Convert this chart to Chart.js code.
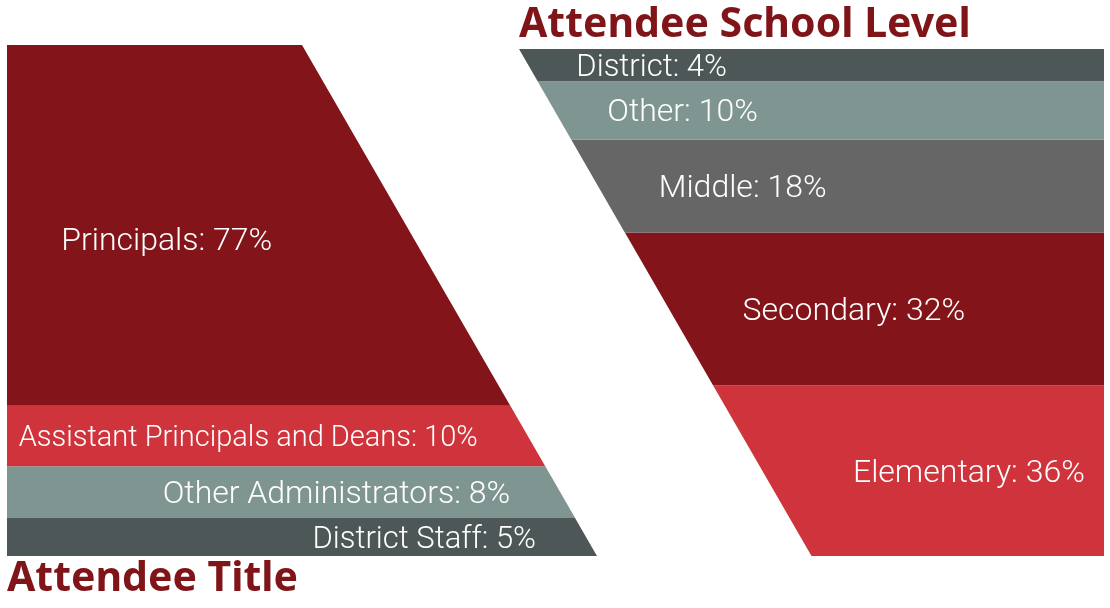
<!DOCTYPE html>
<html>
<head>
<meta charset="utf-8">
<script src="https://cdn.jsdelivr.net/npm/chart.js@4.4.0/dist/chart.umd.min.js"></script>
<style>
  body { margin: 0; background: #fff; }
  #wrap { position: relative; width: 1110px; height: 608px; }
  .box { position: absolute; top: 0; height: 608px; }
  #left { left: 0; width: 620px; }
  #right { left: 500px; width: 610px; }
</style>
</head>
<body>
<div id="wrap">
  <div class="box" id="left"><canvas id="titleChart"></canvas></div>
  <div class="box" id="right"><canvas id="levelChart"></canvas></div>
</div>
<script>
const titleLabels = ["Principals", "Assistant Principals and Deans", "Other Administrators", "District Staff"];
const titleValues = [77, 10, 8, 5];

const levelLabels = ["District", "Other", "Middle", "Secondary", "Elementary"];
const levelValues = [4, 10, 18, 32, 36];

const titleColors = ["#82141a", "#cf343c", "#7f9592", "#4e5757"];
const levelColors = ["#4e5757", "#7f9592", "#666666", "#82141a", "#cf343c"];

const BAND_PAD = 3.5; // extra height per band so the thin slices still hold their text
const SKEW = 50;      // slanted edge travels half of the width (x scale is 0..100)

function cumulative(values) {
  const c = [0];
  values.forEach(v => c.push(c[c.length - 1] + v + BAND_PAD));
  return c;
}

// funnel slanted on the right: line i runs along the top of band i, then down the slant
function rightSlantLines(cum) {
  const n = cum.length - 1;
  const slant = v => SKEW + (100 - SKEW) * v / cum[n];
  return cum.map((v, i) => i === n
    ? [{x: 0, y: v}, {x: 100, y: v}]
    : [{x: 0, y: v}, {x: slant(v), y: v}, {x: 100, y: cum[n]}]);
}

// funnel slanted on the left: line i runs down the slant, then along the top of band i
function leftSlantLines(cum) {
  const n = cum.length - 1;
  const slant = v => SKEW * v / cum[n];
  return cum.map((v, i) => i === 0
    ? [{x: 0, y: 0}, {x: 100, y: 0}]
    : [{x: 0, y: 0}, {x: slant(v), y: v}, {x: 100, y: v}]);
}

function makeDatasets(lines, colors) {
  return lines.map((pts, i) => ({
    data: pts,
    backgroundColor: colors[i] || "transparent",
    borderWidth: 0,
    pointRadius: 0,
    fill: i < lines.length - 1 ? "+1" : false,
  }));
}

const bandLabels = {
  id: "bandLabels",
  afterDatasetsDraw(chart, args, opts) {
    const {ctx, chartArea} = chart;
    const xs = chart.scales.x, ys = chart.scales.y;
    const cum = opts.cum, n = cum.length - 1;
    ctx.save();
    ctx.fillStyle = "#ffffff";
    ctx.textBaseline = "middle";
    opts.labels.forEach((lab, i) => {
      const mid = (cum[i] + cum[i + 1]) / 2;
      const y = ys.getPixelForValue(mid) + 3;
      const shift = (opts.shifts && opts.shifts[i]) || [0, 0];
      const size = (opts.sizes && opts.sizes[i]) || 32;
      ctx.font = "300 " + size + "px Roboto";
      const text = lab + ": " + opts.values[i] + "%";
      let x;
      if (opts.side === "right") {
        x = xs.getPixelForValue(SKEW + (100 - SKEW) * mid / cum[n]) - opts.gap;
        ctx.textAlign = "right";
      } else {
        x = xs.getPixelForValue(SKEW * mid / cum[n]) + opts.gap + opts.drift * (y - chartArea.top);
        ctx.textAlign = "left";
      }
      ctx.fillText(text, x + shift[0], y + shift[1]);
    });
    ctx.restore();
  }
};

const titleCum = cumulative(titleValues);
const levelCum = cumulative(levelValues);

function axes(cum) {
  return {
    x: {type: "linear", min: 0, max: 100, display: false},
    y: {type: "linear", min: 0, max: cum[cum.length - 1], reverse: true, display: false},
  };
}

new Chart(document.getElementById("titleChart"), {
  type: "line",
  data: {datasets: makeDatasets(rightSlantLines(titleCum), titleColors)},
  options: {
    responsive: true,
    maintainAspectRatio: false,
    animation: false,
    layout: {padding: {left: 7, right: 23, top: 45, bottom: 0}},
    scales: axes(titleCum),
    plugins: {
      legend: {display: false},
      tooltip: {enabled: false},
      title: {
        display: true,
        text: "Attendee Title",
        position: "bottom",
        align: "start",
        color: "#7f1519",
        font: {family: "Noto Sans", size: 41, weight: "bold", lineHeight: 1.1},
        padding: {top: 0.5, bottom: 6.4},
      },
      bandLabels: {
        labels: titleLabels, values: titleValues, cum: titleCum,
        side: "right", gap: 50,
        sizes: [32, 29, 32, 31],
        shifts: [[-84, 14], [0, 0], [0, 0], [0, 0]],
      },
    },
  },
  plugins: [bandLabels],
});

new Chart(document.getElementById("levelChart"), {
  type: "line",
  data: {datasets: makeDatasets(leftSlantLines(levelCum), levelColors)},
  options: {
    responsive: true,
    maintainAspectRatio: false,
    animation: false,
    layout: {padding: {left: 19, right: 6, top: 0, bottom: 52}},
    scales: axes(levelCum),
    plugins: {
      legend: {display: false},
      tooltip: {enabled: false},
      title: {
        display: true,
        text: "Attendee School Level",
        position: "top",
        align: "start",
        color: "#7f1519",
        font: {family: "Noto Sans", size: 41, weight: "bold", lineHeight: 1.1},
        padding: {top: 2.85, bottom: 1.05},
      },
      bandLabels: {
        labels: levelLabels, values: levelValues, cum: levelCum,
        side: "left", gap: 46, drift: 0.105,
        sizes: [31, 32, 32, 32, 32],
      },
    },
  },
  plugins: [bandLabels],
});
</script>
</body>
</html>
